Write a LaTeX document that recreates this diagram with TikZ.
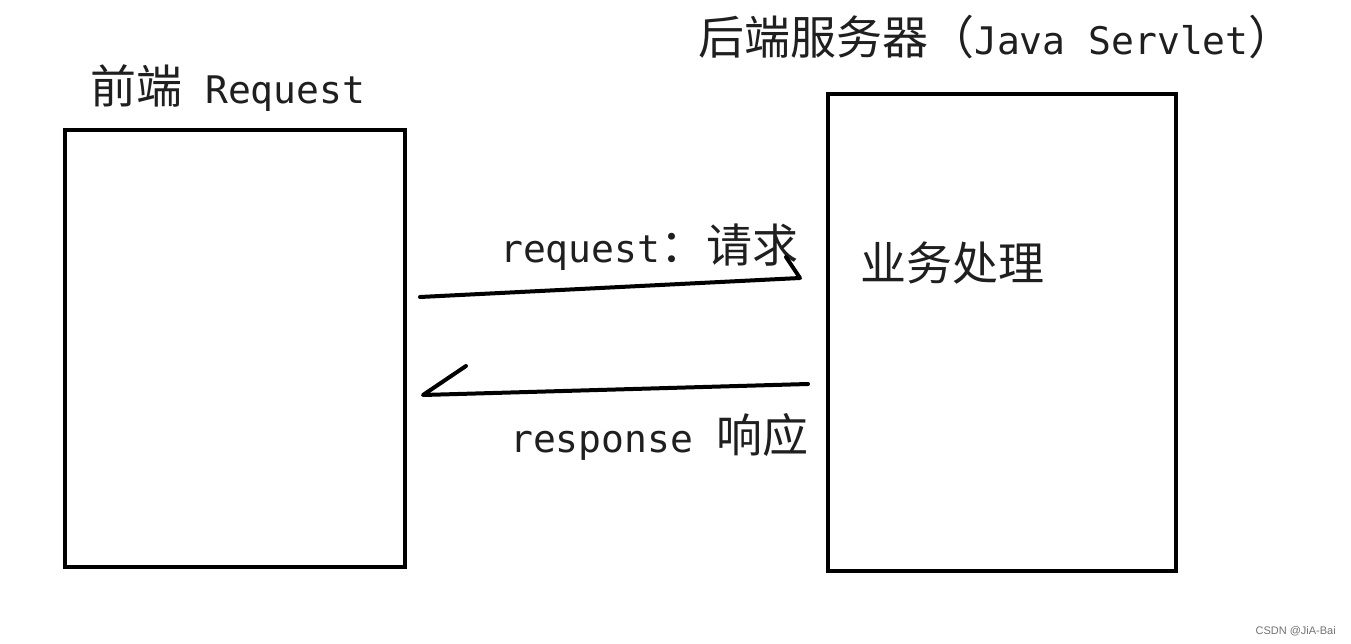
\documentclass[tikz,border=0pt]{standalone}
\usepackage{fontspec}
\newfontfamily\cjk{Noto Sans CJK SC}
\newfontfamily\monof{DejaVu Sans Mono}
\newfontfamily\wmfont{Liberation Sans}
\newcommand{\zh}[1]{{\cjk\fontsize{46}{52}\selectfont #1}}
\newcommand{\en}[1]{{\monof\fontsize{38}{46}\selectfont #1}}
\newcommand{\gap}{\hspace{23pt}}
\begin{document}
\begin{tikzpicture}[x=1pt,y=-1pt,
  box/.style={draw=black,line width=4pt,inner sep=0pt,rectangle},
  lbl/.style={anchor=base west,inner sep=0pt,text=black!88},
  arrowline/.style={draw=black,line width=4pt,line cap=round,line join=round}]
\useasboundingbox[fill=white] (0,0) rectangle (1351,644);
% boxes
\node[box,minimum width=340pt,minimum height=437pt] (front) at (235,348.5) {};
\node[box,minimum width=348pt,minimum height=477pt] (back) at (1002,332.5) {};
% titles
\node[lbl] (fronttitle) at (90,104) {\zh{前端}\gap\en{Request}};
\node[lbl] (backtitle) at (698,55) {\zh{后端服务器（}\en{Java\ Servlet}\zh{）}};
% labels
\node[lbl] (reqlbl) at (500,262) {\en{request}\zh{：请求}};
\node[lbl] (reslbl) at (510,452) {\en{response}\gap\zh{响应}};
\node[lbl] (biz) at (860,280) {\zh{业务处理}};
% request arrow
\coordinate (reqS) at (420,297);
\coordinate (reqE) at (800,278);
\coordinate (reqB) at (786,257);
\draw[arrowline] (reqS) -- (reqE) -- (reqB);
% response arrow
\coordinate (resS) at (808,384);
\coordinate (resE) at (423,395);
\coordinate (resB) at (466,366);
\draw[arrowline] (resS) -- (resE) -- (resB);
% watermark
\node[anchor=base east,inner sep=0pt,text=black!55] (wm) at (1336,634) {\wmfont\fontsize{11}{13}\selectfont CSDN @JiA-Bai};
\end{tikzpicture}
\end{document}
